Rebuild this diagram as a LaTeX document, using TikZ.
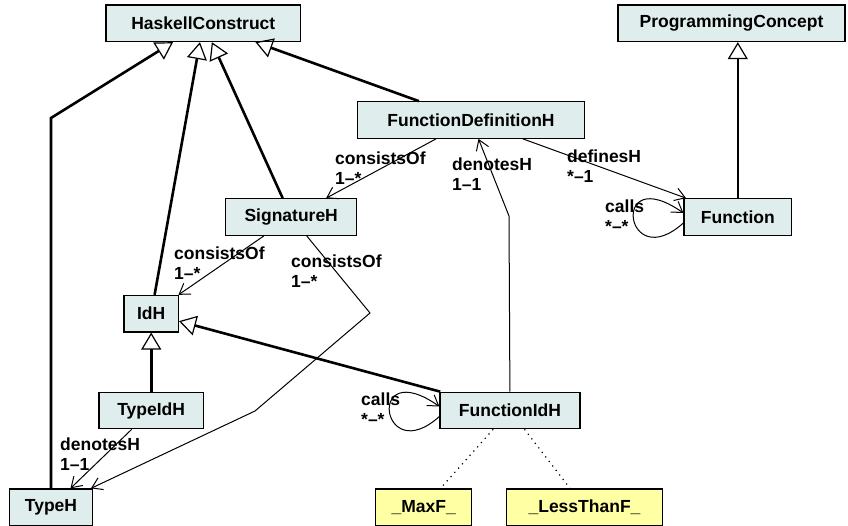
\documentclass[tikz,border=0pt]{standalone}
\usepackage{fontspec}
\setmainfont{Liberation Sans}
\usetikzlibrary{arrows.meta,calc}
\definecolor{boxfill}{HTML}{E0EDED}
\definecolor{instfill}{HTML}{FFFFA3}
\begin{document}
\begin{tikzpicture}[x=1pt,y=-1pt,
  txt/.style={font=\fontsize{17.5}{20}\selectfont\bfseries},
  cls/.style={txt,draw,line width=1.2pt,fill=boxfill,minimum height=36.5pt,inner sep=0pt},
  inst/.style={cls,fill=instfill},
  gen/.style={line width=2.6pt,-{Triangle[open,length=17pt,width=20pt,line width=1.2pt]}},
  assoc/.style={line width=1pt,-{Straight Barb[length=10pt,width=13pt,line width=1pt]}},
  lbl/.style={txt,anchor=north west,inner sep=0pt,align=left},
  inl/.style={line width=1.2pt,dash pattern=on 1.2pt off 4.5pt}]
\useasboundingbox (0,0) rectangle (848,526);
% classes
\node[cls,minimum width=194.7pt] (HC) at (203.3,23.3) {HaskellConstruct};
\node[cls,minimum width=227pt] (PC) at (731.5,23.3) {ProgrammingConcept};
\node[cls,minimum width=226.6pt] (FD) at (471,120) {FunctionDefinitionH};
\node[cls,minimum width=131pt] (Sig) at (291.2,217) {SignatureH};
\node[cls,minimum width=107.7pt] (Fn) at (737.8,217) {Function};
\node[cls,minimum width=54.3pt] (IdH) at (151.2,313.7) {IdH};
\node[cls,minimum width=104.3pt] (TypeIdH) at (151.2,410.5) {TypeIdH};
\node[cls,minimum width=140pt] (FIdH) at (510,410.5) {FunctionIdH};
\node[cls,minimum width=83.4pt] (TypeH) at (51,507.2) {TypeH};
\node[inst,minimum width=96pt] (MaxF) at (423.7,507.2) {\_MaxF\_};
\node[inst,minimum width=155.6pt] (LessF) at (584.5,507.2) {\_LessThanF\_};
% bend points
\coordinate (b1) at (51,118);
\coordinate (b2) at (509,216);
\coordinate (b3) at (370,313);
\coordinate (b4) at (255,411);
% generalizations
\draw[gen] (TypeH) -- (b1) -- (HC);
\draw[gen] (IdH) -- (HC);
\draw[gen] (Sig) -- (HC);
\draw[gen] (FD) -- (HC);
\draw[gen] (Fn.north) -- (Fn.north |- PC.south);
\draw[gen] (TypeIdH) -- (IdH);
\draw[gen] (FIdH) -- (IdH);
% associations
\draw[assoc] (FD) -- (Sig);
\draw[assoc] (FD) -- (Fn);
\draw[assoc] (FIdH) -- (b2) -- (FD);
\draw[assoc] (Sig) -- (IdH);
\draw[assoc] (Sig) -- (b3) -- (b4) -- (TypeH);
\draw[assoc] (TypeIdH) -- (TypeH);
\draw[assoc] ($(Fn.west)+(0,6)$) .. controls +(-59,53) and +(-74,-52) .. ($(Fn.west)+(0,-4)$);
\draw[assoc] ($(FIdH.west)+(0,6)$) .. controls +(-59,53) and +(-74,-52) .. ($(FIdH.west)+(0,-4)$);
% instance links
\draw[inl] (FIdH) -- (MaxF);
\draw[inl] (FIdH) -- (LessF);
% labels
\node[lbl] (l1) at (335,152) {consistsOf\\1–*};
\node[lbl] (l2) at (452,158) {denotesH\\1–1};
\node[lbl] (l3) at (567,150) {definesH\\*–1};
\node[lbl] (l4) at (605,200) {calls\\*–*};
\node[lbl] (l5) at (174,247) {consistsOf\\1–*};
\node[lbl] (l6) at (291,255) {consistsOf\\1–*};
\node[lbl] (l7) at (60,438) {denotesH\\1–1};
\node[lbl] (l8) at (361,393) {calls\\*–*};
\end{tikzpicture}
\end{document}
